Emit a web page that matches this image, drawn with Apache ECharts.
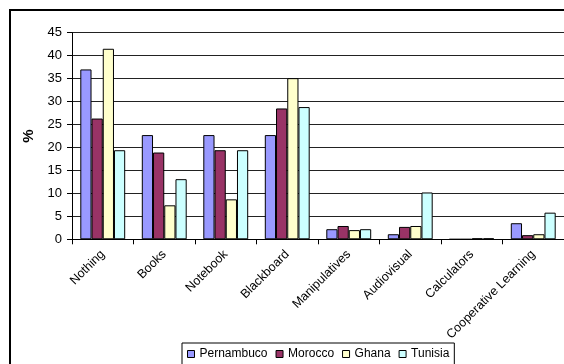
<!DOCTYPE html>
<html>
<head>
<meta charset="utf-8">
<script src="https://cdn.jsdelivr.net/npm/echarts@6/dist/echarts.min.js"></script>
<style>
  html, body { margin: 0; padding: 0; background: #fff; }
  #chart { width: 564px; height: 364px; }
</style>
</head>
<body>
<div id="chart"></div>
<script>
// Teaching resources used in class, share of responses (%)
const categories = ['Nothing', 'Books', 'Notebook', 'Blackboard', 'Manipulatives', 'Audiovisual', 'Calculators', 'Cooperative Learning'];
const pernambuco = [37.0, 22.7, 22.7, 22.7, 2.2, 1.1, 0, 3.5];
const morocco    = [26.3, 18.9, 19.4, 28.5, 2.9, 2.7, 0, 0.9];
const ghana      = [41.5, 7.4, 8.7, 35.1, 2.0, 2.9, 0.2, 1.1];
const tunisia    = [19.4, 13.1, 19.4, 28.8, 2.2, 10.2, 0.2, 5.8];
const seriesNames = ['Pernambuco', 'Morocco', 'Ghana', 'Tunisia'];
const seriesColors = ['#9999FF', '#993366', '#FFFFCC', '#CCFFFF'];
const yTicks = { min: 0, max: 45, step: 5 };

const FONT = '"Liberation Sans", Arial, sans-serif';
const chart = echarts.init(document.getElementById('chart'), null, { renderer: 'canvas' });

const seriesData = [pernambuco, morocco, ghana, tunisia];

chart.setOption({
  animation: false,
  backgroundColor: '#fff',
  textStyle: { fontFamily: FONT, color: '#000' },
  graphic: [{
    type: 'rect',
    z: -10,
    shape: { x: 10, y: 10, width: 700, height: 500 },
    style: { fill: 'none', stroke: '#000', lineWidth: 2 }
  }],
  grid: { left: 72, top: 32.7, right: -13.6, bottom: 124.7, containLabel: false },
  legend: {
    data: seriesNames,
    left: 182,
    top: 343,
    orient: 'horizontal',
    padding: [5, 5, 5, 5],
    itemGap: 8,
    itemWidth: 7,
    itemHeight: 7,
    icon: 'rect',
    borderColor: '#000',
    borderWidth: 1,
    backgroundColor: '#fff',
    itemStyle: { borderColor: '#000', borderWidth: 1 },
    textStyle: { fontFamily: FONT, fontSize: 12, color: '#000' }
  },
  xAxis: {
    type: 'category',
    data: categories,
    boundaryGap: true,
    axisLine: { lineStyle: { color: '#000', width: 1 } },
    axisTick: { show: true, alignWithLabel: false, length: 5, lineStyle: { color: '#000' } },
    axisLabel: {
      interval: 0,
      rotate: 45,
      margin: 13,
      fontFamily: FONT,
      fontSize: 12.5,
      color: '#000'
    },
    splitLine: { show: false }
  },
  yAxis: {
    type: 'value',
    min: yTicks.min,
    max: yTicks.max,
    interval: yTicks.step,
    name: '%',
    nameLocation: 'middle',
    nameRotate: 90,
    nameGap: 33,
    nameTextStyle: { fontFamily: FONT, fontSize: 15, fontWeight: 'bold', color: '#000' },
    axisLine: { show: true, lineStyle: { color: '#000', width: 1 } },
    axisTick: { show: true, inside: false, length: 5, lineStyle: { color: '#000' } },
    axisLabel: { margin: 10, fontFamily: FONT, fontSize: 13, color: '#000' },
    splitLine: { show: true, lineStyle: { color: '#222', width: 1 } }
  },
  series: seriesNames.map((name, i) => ({
    name: name,
    type: 'bar',
    data: seriesData[i],
    barGap: '0%',
    barCategoryGap: '27%',
    itemStyle: { color: seriesColors[i], borderColor: '#000', borderWidth: 1 }
  }))
});
</script>
</body>
</html>
